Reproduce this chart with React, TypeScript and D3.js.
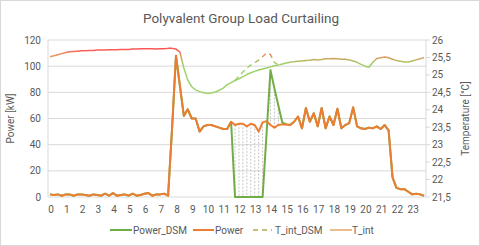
import React from "react";
import * as d3 from "d3";

// 15-minute samples over 24 h (96 points)
const hourLabels = d3.range(0, 24).map(String);

const power = [
  2, 1.5, 2, 1, 2, 2, 1, 2, 2, 1.5, 1, 2, 1.5, 1, 2.5, 1, 3, 1, 1.5, 2, 1, 2.5, 1, 1.5, 2.5, 3, 1, 2, 2, 2.5,
  1, 52, 108, 85, 62, 67, 60, 60, 50, 54, 55, 55, 54, 53, 52, 52, 57.5, 55, 56, 56, 54, 56, 55, 50, 57, 58,
  55, 53, 55, 55.5, 55.5, 55, 57.5, 61.5, 52.5, 68, 57.5, 64, 54, 68, 52.5, 61.5, 55, 67.5, 52.5, 55, 56.5,
  68.5, 54, 52.5, 52, 53, 52.5, 54, 52, 55, 51, 15, 7, 6, 6, 4, 2, 2.5, 2, 1,
];

// Power_DSM only differs from Power between index 46 and 60
const dsmStart = 46;
const powerDsmWindow = [57.5, 0, 0, 0, 0, 0, 0, 0, 0, 48, 97, 83, 70, 57, 55.5];

const tInt = [
  25.52, 25.55, 25.58, 25.61, 25.64, 25.66, 25.67, 25.68, 25.69, 25.69, 25.7, 25.7, 25.71, 25.71, 25.71,
  25.72, 25.72, 25.72, 25.73, 25.73, 25.73, 25.74, 25.74, 25.75, 25.75, 25.75, 25.75, 25.74, 25.75, 25.75,
  25.76, 25.76, 25.74, 25.65, 25.2, 24.85, 24.66, 24.57, 24.52, 24.49, 24.47, 24.48, 24.51, 24.56, 24.62,
  24.72, 24.78, 24.84, 24.89, 24.95, 25.01, 25.06, 25.1, 25.14, 25.17, 25.2, 25.23, 25.26, 25.28, 25.31,
  25.34, 25.36, 25.38, 25.39, 25.4, 25.41, 25.42, 25.44, 25.43, 25.44, 25.46, 25.46, 25.47, 25.46, 25.45,
  25.45, 25.43, 25.4, 25.36, 25.3, 25.25, 25.22, 25.36, 25.47, 25.49, 25.51, 25.49, 25.45, 25.41, 25.39,
  25.37, 25.37, 25.4, 25.43, 25.46, 25.5, 25.54,
];

// T_int_DSM departs from T_int between index 47 and 58
const tDsmStart = 47;
const tIntDsmWindow = [24.84, 24.97, 25.08, 25.2, 25.28, 25.35, 25.42, 25.52, 25.63, 25.58, 25.36, 25.28];

const powerTicks = [0, 20, 40, 60, 80, 100, 120];
const tempTicks = [21.5, 22, 22.5, 23, 23.5, 24, 24.5, 25, 25.5, 26];

const W = 480;
const H = 246;
const margin = { left: 48, right: 54, top: 40, bottom: 49 };
const font = "Roboto, 'Noto Sans', sans-serif";
const grey = "#595959";

export default function App() {
  const n = power.length;
  const x0 = margin.left;
  const x1 = W - margin.right;
  const y0 = H - margin.bottom;
  const yTop = margin.top;

  const x = d3.scaleBand<number>().domain(d3.range(n)).range([x0, x1]);
  const cx = (i: number) => (x(i) as number) + x.bandwidth() / 2;
  const y = d3.scaleLinear().domain([0, 120]).range([y0, yTop]);
  const yT = d3.scaleLinear().domain([21.5, 26]).range([y0, yTop]);

  const powerDsm = power.map((v, i) =>
    i >= dsmStart && i < dsmStart + powerDsmWindow.length ? powerDsmWindow[i - dsmStart] : v
  );

  const lineP = d3
    .line<number>()
    .x((_, i) => cx(i))
    .y((d) => y(d));
  const lineT = d3
    .line<number>()
    .x((_, i) => cx(i))
    .y((d) => yT(d));
  const lineTdsm = d3
    .line<number>()
    .x((_, i) => cx(i + tDsmStart))
    .y((d) => yT(d));

  // colour of the temperature lines follows their height
  const gradStops: [number, string][] = [
    [25.8, "#ff4f4f"],
    [25.7, "#f7605a"],
    [25.6, "#ee8a5c"],
    [25.5, "#d9a062"],
    [25.45, "#c9a862"],
    [25.4, "#b4bd62"],
    [25.33, "#a2cc66"],
    [25.2, "#9ccf66"],
    [25.0, "#9ed36c"],
  ];
  const gTop = yT(25.8);
  const gBot = yT(25.0);

  const legendY = 230;

  return (
    <svg
      width={W}
      height={H}
      style={{ position: "absolute", left: 0, top: 0, background: "#fff" }}
      fontFamily={font}
    >
      <defs>
        <linearGradient id="tgrad" gradientUnits="userSpaceOnUse" x1={0} x2={0} y1={gTop} y2={gBot}>
          {gradStops.map(([t, c]) => (
            <stop key={t} offset={(yT(t) - gTop) / (gBot - gTop)} stopColor={c} />
          ))}
        </linearGradient>
      </defs>
      <rect x={0.5} y={0.5} width={W - 1} height={H - 1} fill="#fff" stroke="#d9d9d9" />

      <text x={241} y={23} textAnchor="middle" fontSize={13.5} fill={grey}>
        Polyvalent Group Load Curtailing
      </text>

      {/* gridlines */}
      {powerTicks.map((t) => (
        <line key={t} x1={x0} x2={x1} y1={y(t)} y2={y(t)} stroke="#d9d9d9" strokeWidth={1} />
      ))}
      <line x1={x0} x2={x0} y1={yTop} y2={y0} stroke="#d9d9d9" />
      <line x1={x1} x2={x1} y1={yTop} y2={y0} stroke="#d9d9d9" />
      {tempTicks.map((t) => (
        <line key={t} x1={x1} x2={x1 + 4} y1={yT(t)} y2={yT(t)} stroke="#d9d9d9" />
      ))}

      {/* left ticks */}
      {powerTicks.map((t) => (
        <text key={t} x={x0 - 7} y={y(t)} dy="0.35em" textAnchor="end" fontSize={10} fill={grey}>
          {t}
        </text>
      ))}
      {/* right ticks */}
      {tempTicks.map((t) => (
        <text key={t} x={x1 + 6} y={yT(t)} dy="0.35em" textAnchor="start" fontSize={10} fill={grey}>
          {String(t).replace(".", ",")}
        </text>
      ))}
      {/* x labels every 4 samples */}
      {hourLabels.map((l, k) => (
        <text key={l} x={cx(k * 4) + 1} y={y0 + 16} textAnchor="middle" fontSize={10} fill={grey}>
          {l}
        </text>
      ))}

      <text
        transform={`translate(14,${(yTop + y0) / 2}) rotate(-90)`}
        textAnchor="middle"
        fontSize={10}
        fill={grey}
      >
        Power [kW]
      </text>
      <text
        transform={`translate(469,${(yTop + y0) / 2}) rotate(-90)`}
        textAnchor="middle"
        fontSize={10}
        fill={grey}
      >
        Temperature [°C]
      </text>

      {/* high-low lines between Power and Power_DSM */}
      {power.map((v, i) =>
        v !== powerDsm[i] ? (
          <line
            key={i}
            x1={cx(i)}
            x2={cx(i)}
            y1={y(v)}
            y2={y(powerDsm[i])}
            stroke="#b4b4b4"
            strokeWidth={0.75}
            strokeDasharray="2,1.5"
          />
        ) : null
      )}

      <path d={lineP(powerDsm) ?? ""} fill="none" stroke="#70ad47" strokeWidth={2} strokeLinejoin="round" />
      <path d={lineP(power) ?? ""} fill="none" stroke="#ed7d31" strokeWidth={2} strokeLinejoin="round" />
      <path
        d={lineTdsm(tIntDsmWindow) ?? ""}
        fill="none"
        stroke="url(#tgrad)"
        strokeWidth={1.5}
        strokeDasharray="5,4"
      />
      <path d={lineT(tInt) ?? ""} fill="none" stroke="url(#tgrad)" strokeWidth={1.5} strokeLinejoin="round" />

      {/* legend */}
      <g fontSize={10} fill={grey}>
        <line x1={110} x2={132} y1={legendY} y2={legendY} stroke="#70ad47" strokeWidth={2} />
        <text x={133} y={legendY} dy="0.35em">Power_DSM</text>
        <line x1={193} x2={214} y1={legendY} y2={legendY} stroke="#ed7d31" strokeWidth={2} />
        <text x={215} y={legendY} dy="0.35em">Power</text>
        <line
          x1={253}
          x2={272}
          y1={legendY}
          y2={legendY}
          stroke="#b8a84a"
          strokeWidth={1.5}
          strokeDasharray="5,4"
        />
        <text x={275} y={legendY} dy="0.35em">T_int_DSM</text>
        <line x1={330} x2={352} y1={legendY} y2={legendY} stroke="#e6a468" strokeWidth={1.5} />
        <text x={352} y={legendY} dy="0.35em">T_int</text>
      </g>
    </svg>
  );
}
